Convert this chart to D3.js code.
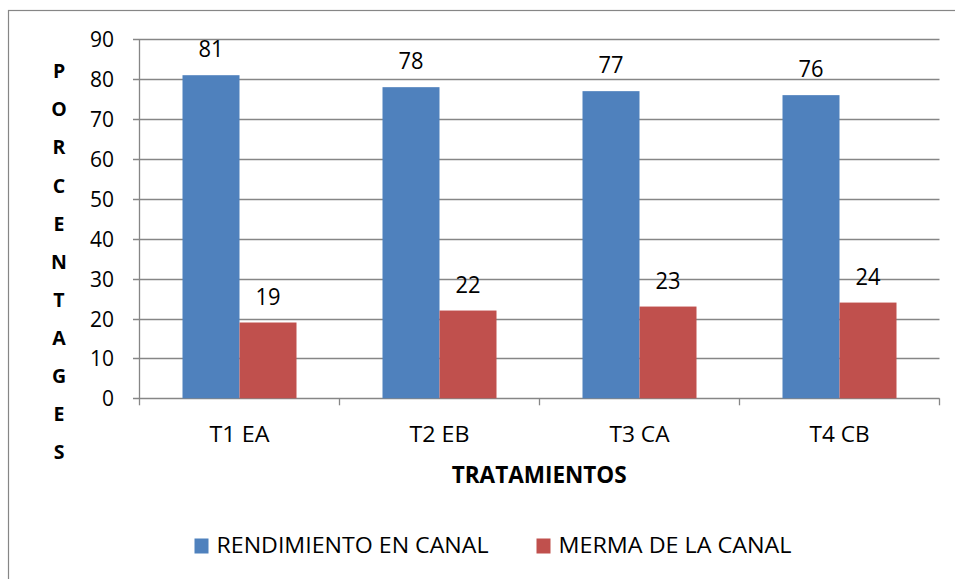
<!DOCTYPE html>
<html><head><meta charset="utf-8">
<script src="https://cdn.jsdelivr.net/npm/d3@7"></script>
<style>body{margin:0;background:#fff}svg{display:block}text{font-family:"Open Sans",sans-serif;fill:#000}</style>
</head><body><svg id="c" width="955" height="579"></svg>
<script>
const categories = ["T1 EA", "T2 EB", "T3 CA", "T4 CB"];
const seriesNames = ["RENDIMIENTO EN CANAL", "MERMA DE LA CANAL"];
const rendimiento = [81, 78, 77, 76];
const merma = [19, 22, 23, 24];
const yTicks = [0, 10, 20, 30, 40, 50, 60, 70, 80, 90];
const colors = ["#4F81BD", "#C0504D"];
const yTitle = "PORCENTAGES";
const xTitle = "TRATAMIENTOS";

const svg = d3.select("#c");
svg.append("rect").attr("x", 8.5).attr("y", 10.5).attr("width", 960).attr("height", 600)
  .attr("fill", "#fff").attr("stroke", "#868686").attr("stroke-width", 1.2);

const x = d3.scaleBand().domain(categories).range([139.5, 939.5]).paddingInner(0.43).paddingOuter(0.215);
const xs = d3.scaleBand().domain([0, 1]).range([0, x.bandwidth()]);
const y = d3.scaleLinear().domain([0, 90]).range([398.3, 39.3]);

// gridlines
svg.append("g").selectAll("line").data(yTicks).join("line")
  .attr("x1", 133).attr("x2", 939.5)
  .attr("y1", d => Math.round(y(d)) + 0.5).attr("y2", d => Math.round(y(d)) + 0.5)
  .attr("stroke", "#868686").attr("stroke-width", 1.3);

svg.append("line").attr("x1", 139.5).attr("x2", 139.5).attr("y1", y(90)).attr("y2", y(0))
  .attr("stroke", "#868686").attr("stroke-width", 1.3);
const bounds = d3.range(categories.length + 1).map(i => 139.5 + i * x.step());
svg.append("g").selectAll("line").data(bounds).join("line")
  .attr("x1", d => d).attr("x2", d => d).attr("y1", y(0)).attr("y2", y(0) + 7)
  .attr("stroke", "#868686").attr("stroke-width", 1.3);

// y tick labels
svg.append("g").selectAll("text").data(yTicks).join("text")
  .attr("x", 114).attr("y", d => y(d) + 8).attr("text-anchor", "end")
  .attr("font-size", 21).text(d => d);

// bars
const data = categories.map((c, i) => ({c, v: [rendimiento[i], merma[i]]}));
const g = svg.append("g").selectAll("g").data(data).join("g")
  .attr("transform", d => `translate(${x(d.c)},0)`);
g.selectAll("rect").data(d => d.v).join("rect")
  .attr("x", (d, i) => xs(i)).attr("width", xs.bandwidth())
  .attr("y", d => y(d)).attr("height", d => y(0) - y(d))
  .attr("fill", (d, i) => colors[i]);
g.selectAll("text").data(d => d.v).join("text")
  .attr("x", (d, i) => xs(i) + xs.bandwidth() / 2).attr("y", d => y(d) - 18)
  .attr("text-anchor", "middle").attr("font-size", 23)
  .attr("textLength", 25).attr("lengthAdjust", "spacingAndGlyphs").text(d => d);

// category labels
svg.append("g").selectAll("text").data(categories).join("text")
  .attr("x", d => x(d) + x.bandwidth() / 2 - 30).attr("y", 441.7)
  .attr("font-size", 21).attr("textLength", 60).attr("lengthAdjust", "spacingAndGlyphs").text(d => d);

// x title
svg.append("text").attr("x", 451.7).attr("y", 483.3)
  .attr("font-size", 23).attr("font-weight", "bold")
  .attr("textLength", 175).attr("lengthAdjust", "spacingAndGlyphs").text(xTitle);

// y title stacked
svg.append("g").selectAll("text").data(yTitle.split("")).join("text")
  .attr("x", 59).attr("y", (d, i) => 78.3 + i * 38.07).attr("text-anchor", "middle")
  .attr("font-size", 19.5).attr("font-weight", "bold").text(d => d);

// legend
const legX = [194.5, 536.5];
const legW = [272, 233];
const lg = svg.append("g").selectAll("g").data(seriesNames).join("g")
  .attr("transform", (d, i) => `translate(${legX[i]},0)`);
lg.append("rect").attr("x", 0).attr("y", 538.5).attr("width", 14).attr("height", 15).attr("fill", (d, i) => colors[i]);
lg.append("text").attr("x", 22).attr("y", 553.3).attr("font-size", 22)
  .attr("textLength", (d, i) => legW[i]).attr("lengthAdjust", "spacingAndGlyphs").text(d => d);
</script></body></html>
